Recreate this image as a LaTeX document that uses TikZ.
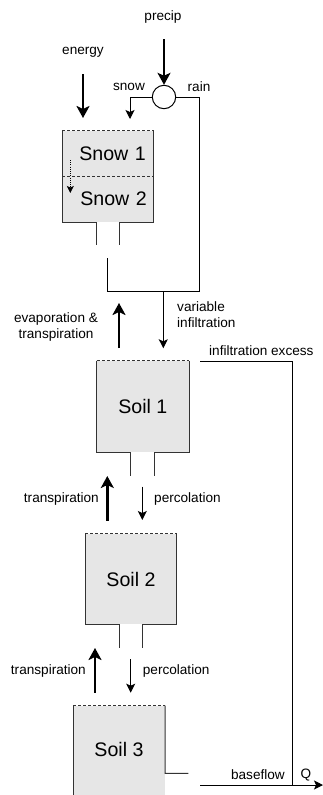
\documentclass[tikz,border=0pt]{standalone}
\usepackage{fontspec}
\setmainfont{Liberation Sans}
\usetikzlibrary{arrows.meta}
\definecolor{boxgray}{HTML}{E6E6E6}
\definecolor{edgegray}{HTML}{333333}
\tikzset{
  boxfill/.style={fill=boxgray, draw=none, inner sep=0pt, font=\fontsize{19.6}{22}\selectfont},
  boxline/.style={draw=edgegray, line width=1pt},
  dashline/.style={boxline, dash pattern=on 3pt off 2pt},
  lbl/.style={inner sep=0pt, font=\fontsize{13.6}{16}\selectfont},
  thickarrow/.style={draw=black, line width=2.4pt, -{Stealth[length=12pt,width=13pt,inset=3pt]}},
  thinarrow/.style={draw=black, line width=1pt, -{Stealth[length=9pt,width=9pt,inset=2pt]}},
  thinline/.style={draw=black, line width=1pt},
  dotarrow/.style={draw=black, line width=0.8pt, dash pattern=on 1pt off 1.2pt, -{Stealth[length=7pt,width=7pt,inset=1.5pt]}},
}
\begin{document}
\begin{tikzpicture}[x=1pt,y=-1pt]
\useasboundingbox (0,0) rectangle (323,795);

% ---------- boxes ----------
\node[boxfill, minimum width=91pt, minimum height=45pt, text width=76pt, align=right] (snow1) at (107.8,153.5) {Snow 1};
\node[boxfill, minimum width=91pt, minimum height=46pt, text width=78pt, align=right] (snow2) at (107.8,199) {Snow 2};
\node[boxfill, minimum width=92.3pt, minimum height=91.3pt] (soil1) at (142.85,406.65) {Soil 1};
\node[boxfill, minimum width=91.4pt, minimum height=90.3pt] (soil2) at (131,579.15) {Soil 2};
\node[boxfill, minimum width=91.7pt, minimum height=89.3pt] (soil3) at (119.15,750.35) {};
\node[inner sep=0pt, font=\fontsize{19.6}{22}\selectfont] (soil3lbl) at (119,749) {Soil 3};

% snow box outline
\draw[dashline] (snow1.north west) -- (snow1.north east);
\draw[dashline] (snow1.south west) -- (snow1.south east);
\draw[boxline] (snow1.north west) -- (snow2.south west) -- ++(34.4,0) -- ++(0,23);
\draw[boxline] (snow1.north east) -- (snow2.south east) -- ++(-34.3,0) -- ++(0,23);

% soil 1 outline
\draw[dashline] (soil1.north west) -- (soil1.north east);
\draw[boxline] (soil1.north west) -- (soil1.south west) -- ++(34.3,0) -- ++(0,23.4);
\draw[boxline] (soil1.north east) -- (soil1.south east) -- ++(-35,0) -- ++(0,23.4);

% soil 2 outline
\draw[dashline] (soil2.north west) -- (soil2.north east);
\draw[boxline] (soil2.north west) -- (soil2.south west) -- ++(34,0) -- ++(0,23.7);
\draw[boxline] (soil2.north east) -- (soil2.south east) -- ++(-34,0) -- ++(0,23.7);

% soil 3 outline
\draw[dashline] (soil3.north west) -- (soil3.north east);
\draw[boxline] (soil3.north west) -- (soil3.south west);
\coordinate (bfout) at (165,773.3);
\draw[boxline] (soil3.north east) -- (bfout) -- ++(23.3,0);

% ---------- precipitation split ----------
\node[draw=black, line width=1pt, circle, fill=white, minimum size=23.4pt, inner sep=0pt] (split) at (164,97) {};
\node[lbl] (precip) at (163,17) {precip};
\coordinate (precipstart) at (164,39);
\draw[thickarrow] (precipstart) -- (split.north);

\node[lbl] (energy) at (83,52) {energy};
\coordinate (energystart) at (83,74);
\coordinate (energyend) at (83,118);
\draw[thickarrow] (energystart) -- (energyend);

\node[lbl] (snowlbl) at (129,87) {snow};
\node[lbl] (rainlbl) at (199,87) {rain};
\coordinate (snowin) at (130,119);
\draw[thinarrow] (split.west) -| (snowin);

% melt between snow layers
\coordinate (meltA) at (70.3,160);
\coordinate (meltB) at (70.3,193);
\draw[dotarrow] (meltA) -- (meltB);

% rain & melt to soil
\coordinate (meltout) at (107.7,258);
\coordinate (joinL) at (107.7,291.7);
\coordinate (joinR) at (199.3,291.7);
\coordinate (joinM) at (163.3,291.7);
\coordinate (infend) at (163.3,348.3);
\draw[thinline] (split.east) -| (joinR) -- (joinL) -- (meltout);
\draw[thinarrow] (joinM) -- (infend);
\node[lbl, align=left, anchor=west] (varinf) at (177,315) {variable\\infiltration};

\coordinate (evapstart) at (119,348);
\coordinate (evapend) at (119,303);
\draw[thickarrow] (evapstart) -- (evapend);
\node[lbl, align=center] (evaplbl) at (56,327) {evaporation \&\\transpiration};

% infiltration excess
\coordinate (ieStart) at (200,361);
\coordinate (ieCorner) at (292,361);
\coordinate (qjoin) at (292,785);
\coordinate (bfstart) at (200,785);
\coordinate (qend) at (323,785);
\draw[thinline] (ieStart) -- (ieCorner) -- (qjoin);
\node[lbl, anchor=west] (ielbl) at (209,350.5) {infiltration excess};
\draw[thinline, -{Stealth[length=9pt,width=9pt,inset=2pt]}] (bfstart) -- (qend);
\node[lbl, anchor=east] (bflbl) at (285,775) {baseflow};
\node[lbl] (qlbl) at (306,775) {Q};

% soil 1 <-> soil 2
\coordinate (tr1s) at (107.3,520.7);
\coordinate (tr1e) at (107.3,476);
\draw[thickarrow] (tr1s) -- (tr1e);
\node[lbl, anchor=east] (tr1lbl) at (99,499) {transpiration};
\coordinate (pc1s) at (142.3,486.7);
\coordinate (pc1e) at (142.3,520);
\draw[thinarrow] (pc1s) -- (pc1e);
\node[lbl, anchor=west] (pc1lbl) at (154,499) {percolation};

% soil 2 <-> soil 3
\coordinate (tr2s) at (95,692.7);
\coordinate (tr2e) at (95,648);
\draw[thickarrow] (tr2s) -- (tr2e);
\node[lbl, anchor=east] (tr2lbl) at (86,671) {transpiration};
\coordinate (pc2s) at (130.7,659);
\coordinate (pc2e) at (130.7,692.7);
\draw[thinarrow] (pc2s) -- (pc2e);
\node[lbl, anchor=west] (pc2lbl) at (142.7,671) {percolation};
\end{tikzpicture}
\end{document}
